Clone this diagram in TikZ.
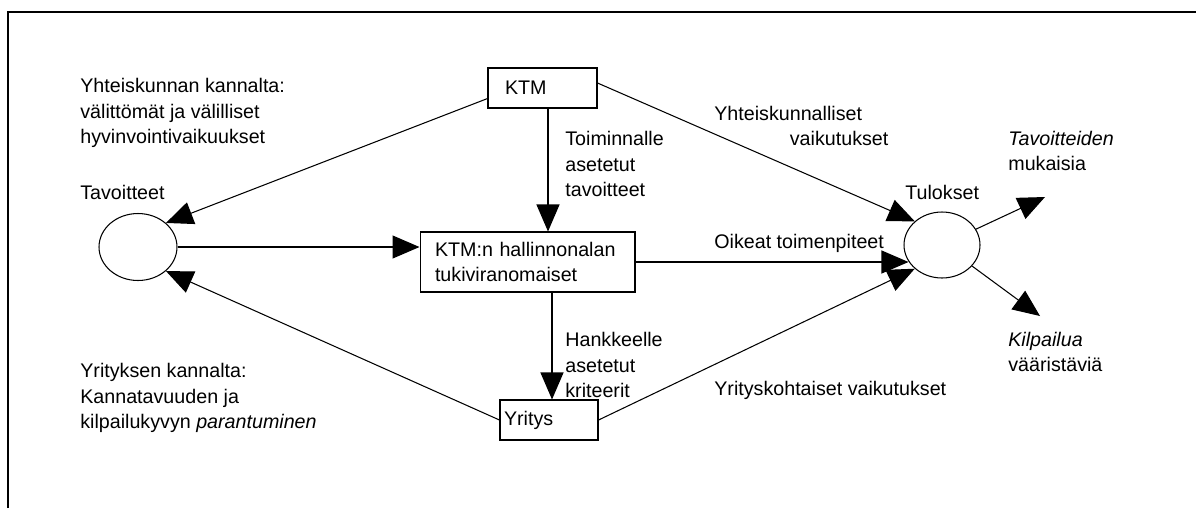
\documentclass[tikz,border=0pt]{standalone}
\usepackage{fontspec}
\setmainfont{Liberation Sans}
\usetikzlibrary{arrows.meta,shapes.geometric}

\tikzset{
  box/.style={draw, line width=0.6pt, inner ysep=0pt, align=left},
  oval/.style={draw, ellipse, line width=0.6pt, inner sep=0pt},
  lbl/.style={anchor=west, inner sep=0pt, align=left},
  arr/.style={line width=0.6pt, -{Triangle[length=0.54cm,width=0.46cm]}}
}

\begin{document}
\begin{tikzpicture}[x=0.02cm,y=-0.02cm,font=\fontsize{11.2}{14.6}\selectfont]
        \useasboundingbox (0,0) rectangle (1196,508);
        %% frame
        \draw[line width=0.8pt] (8,508) -- (8,12) -- (1196,12);
        %% boxes and ovals
        \node[box, text width=1.5cm, inner xsep=0.34cm, minimum height=0.8cm] (ktm) at (542.5,88) {KTM};
        \node[box, text width=3.7cm, inner xsep=0.3cm, minimum height=1.2cm] (hall) at (527.5,262) {KTM:n hallinnonalan\\tukiviranomaiset};
        \node[box, text width=1.8cm, inner xsep=0.08cm, minimum height=0.8cm] (yritys) at (549,420) {Yritys};
        \node[oval, minimum width=1.56cm, minimum height=1.34cm] (tav) at (138,247) {};
        \node[oval, minimum width=1.52cm, minimum height=1.32cm] (tul) at (942,245) {};
        %% texts
        \node[lbl] (yhtkann) at (80,113) {Yhteiskunnan kannalta:\\välittömät ja välilliset\\hyvinvointivaikuukset};
        \node[lbl] (tavl) at (80,192) {Tavoitteet};
        \node[lbl] (toim) at (565,164) {Toiminnalle\\asetetut\\tavoitteet};
        \node[lbl] (yhtvaik) at (714,126) {Yhteiskunnalliset\\\hspace*{43pt}vaikutukset};
        \node[lbl] (tulk) at (905,192) {Tulokset};
        \node[lbl] (tavm) at (1008,151) {\textit{Tavoitteiden}\\mukaisia};
        \node[lbl] (oikeat) at (714,243) {Oikeat toimenpiteet};
        \node[lbl] (hank) at (565,365) {Hankkeelle\\asetetut\\kriteerit};
        \node[lbl] (kilp) at (1008,352) {\textit{Kilpailua}\\vääristäviä};
        \node[lbl] (yrkoht) at (714,390) {Yrityskohtaiset vaikutukset};
        \node[lbl] (yrkann) at (80,398) {Yrityksen kannalta:\\Kannatavuuden ja\\kilpailukyvyn \textit{parantuminen}};
        %% free ends
        \coordinate (c1) at (548,0);
        \coordinate (c2) at (552,0);
        \coordinate (o1) at (1045,197);
        \coordinate (o2) at (1040,316);
        %% connectors
        \draw[arr] ([yshift=0.2cm]ktm.south west) -- (tav.north east);
        \draw[arr] (tav.east) -- (hall.west |- tav.east);
        \draw[arr] (ktm.south -| c1) -- (hall.north -| c1);
        \draw[arr] ([yshift=0.1cm]ktm.east) -- (tul.north west);
        \draw[arr] (hall.east) -- ([xshift=0.1cm]tul.west |- hall.east);
        \draw[arr] (hall.south -| c2) -- (yritys.north -| c2);
        \draw[arr] (yritys.west) -- (tav.south east);
        \draw[arr] (yritys.east) -- (tul.south west);
        \draw[arr] (tul.25) -- (o1);
        \draw[arr] (tul.-35) -- (o2);
    \end{tikzpicture}
\end{document}
